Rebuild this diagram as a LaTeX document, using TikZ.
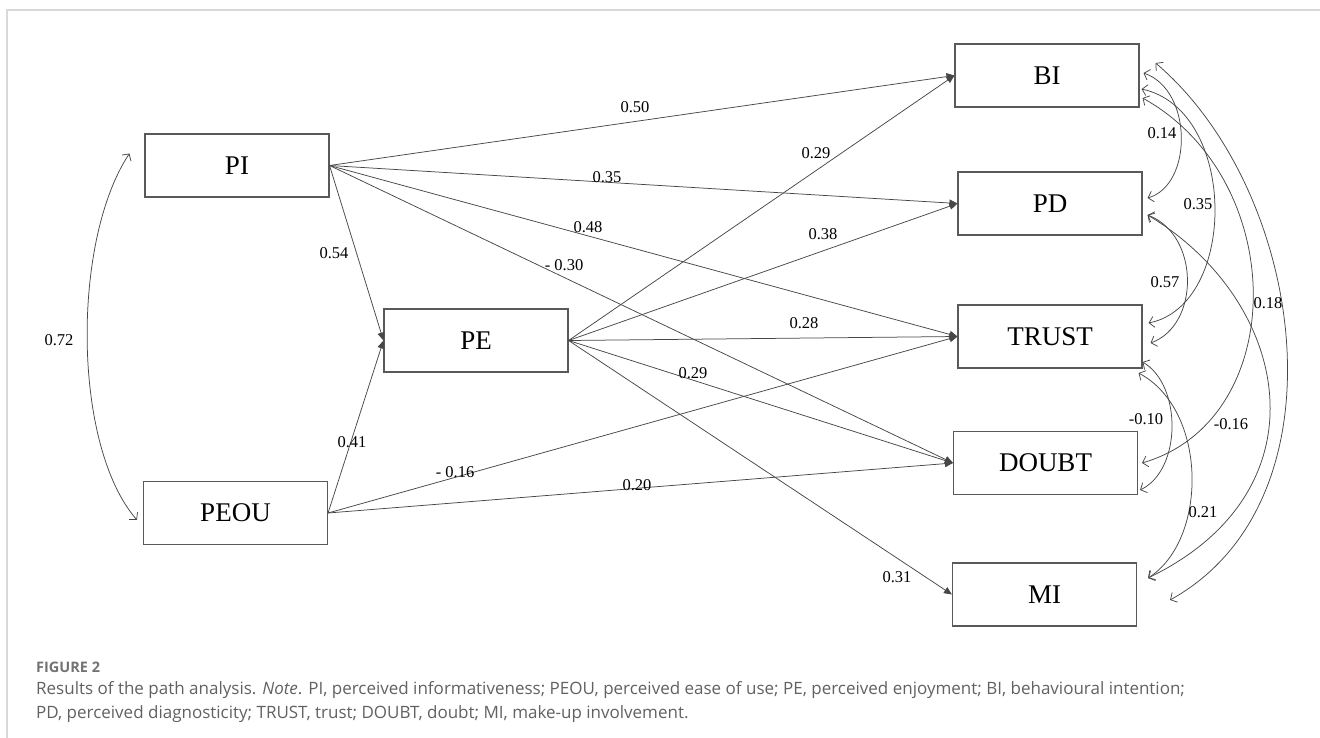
\documentclass[tikz,border=0pt]{standalone}
\usepackage{fontspec}
\setmainfont{Liberation Serif}
\newfontfamily\capfont{Open Sans}
\usetikzlibrary{arrows.meta,calc}
\begin{document}
\begin{tikzpicture}[x=1pt,y=-1pt,
  box/.style={draw=black!65,line width=1.1pt,minimum width=184pt,minimum height=63pt,inner sep=0pt,font=\fontsize{27}{27}\selectfont},
  pth/.style={draw=black!72,line width=0.75pt,-{Triangle[length=8pt,width=7pt]}},
  corr/.style={draw=black!72,line width=0.75pt,{Straight Barb[length=5pt,width=11pt]}-{Straight Barb[length=5pt,width=11pt]}},
  lab/.style={font=\fontsize{16.5}{16.5}\selectfont,inner sep=0pt},
  captext/.style={anchor=west,inner sep=0pt,text=black!62,font=\capfont\fontsize{17}{17}\selectfont}]
\useasboundingbox (0,0) rectangle (1320,738);
% frame
\draw[black!15,line width=1.5pt] (7,738) -- (7,10) -- (1320,10);
% boxes
\node[box] (PI) at (237,165.5) {PI};
\node[box] (PE) at (476,340.5) {PE};
\node[box] (PEOU) at (235.5,513) {PEOU};
\node[box] (BI) at (1047,75.5) {BI};
\node[box] (PD) at (1050,203.5) {PD};
\node[box] (TRUST) at (1050,336.5) {TRUST};
\node[box] (DOUBT) at (1045.5,463) {DOUBT};
\node[box] (MI) at (1044.5,594.5) {MI};
% straight paths
\draw[pth] (PI.east) -- (BI.west);
\draw[pth] (PI.east) -- (PD.west);
\draw[pth] (PI.east) -- (TRUST.west);
\draw[pth] (PI.east) -- (DOUBT.west);
\draw[pth] (PI.east) -- (PE.west);
\draw[pth] (PEOU.east) -- (PE.west);
\draw[pth] (PEOU.east) -- (TRUST.west);
\draw[pth] (PEOU.east) -- (DOUBT.west);
\draw[pth] (PE.east) -- (BI.west);
\draw[pth] (PE.east) -- (PD.west);
\draw[pth] (PE.east) -- (TRUST.west);
\draw[pth] (PE.east) -- (DOUBT.west);
\draw[pth] (PE.east) -- (MI.west);
% path labels
\node[lab] (l50) at (635,107) {0.50};
\node[lab] (l35) at (607,177) {0.35};
\node[lab] (l48) at (588,227) {0.48};
\node[lab] (l30) at (564,265) {- 0.30};
\node[lab] (l29a) at (816,153) {0.29};
\node[lab] (l38) at (823,234) {0.38};
\node[lab] (l28) at (804,323) {0.28};
\node[lab] (l29b) at (693,373) {0.29};
\node[lab] (l20) at (637,485) {0.20};
\node[lab] (l31) at (897,577) {0.31};
\node[lab] (l54) at (334,253) {0.54};
\node[lab] (l41) at (352,442) {0.41};
\node[lab] (l16a) at (455,472) {- 0.16};
\node[lab] (l72) at (59,340) {0.72};
% correlation PI-PEOU
\draw[corr] ($(PI.west)+(-15,-12)$) .. controls (72,240) and (72,445) .. ($(PEOU.west)+(-6,7)$);
% correlations on the right
\draw[corr] ($(BI.east)+(4,-2.5)$) .. controls (1193,90) and (1193,185) .. ($(PD.east)+(5,-5.5)$);
\draw[corr] ($(BI.east)+(2,13.5)$) .. controls (1238,110) and (1238,305) .. ($(TRUST.east)+(6,-13.5)$);
\draw[corr] ($(PD.east)+(5,11.5)$) .. controls (1200,235) and (1200,325) .. ($(TRUST.east)+(8,6.5)$);
\draw[corr] ($(BI.east)+(3,22.5)$) .. controls (1290,180) and (1290,420) .. ($(DOUBT.east)+(4,0)$);
\draw[corr] ($(BI.east)+(16,-12.5)$) .. controls (1305,190) and (1350,500) .. ($(MI.east)+(33,5.5)$);
\draw[corr] ($(TRUST.east)+(0,25.5)$) .. controls (1182,385) and (1182,470) .. ($(DOUBT.east)+(2,27)$);
\draw[corr] ($(TRUST.east)+(-4,36.5)$) .. controls (1208,410) and (1208,540) .. ($(MI.east)+(11,-16.5)$);
\draw[corr] ($(PD.east)+(5,11.5)$) .. controls (1290,300) and (1330,490) .. ($(MI.east)+(11,-16.5)$);
% correlation labels
\node[lab] (c14) at (1162,133) {0.14};
\node[lab] (c35) at (1198,204) {0.35};
\node[lab] (c57) at (1165,282) {0.57};
\node[lab] (c18) at (1268,303) {0.18};
\node[lab] (c10) at (1146,419) {-0.10};
\node[lab] (c16) at (1231,424) {-0.16};
\node[lab] (c21) at (1203,512) {0.21};
% caption
\node[captext,font=\capfont\bfseries\fontsize{14.5}{14.5}\selectfont,text=black!55] (fig) at (36,667) {FIGURE 2};
\node[captext] (cap1) at (36,690) {Results of the path analysis. \textit{Note}. PI, perceived informativeness; PEOU, perceived ease of use; PE, perceived enjoyment; BI, behavioural intention;};
\node[captext] (cap2) at (36,714) {PD, perceived diagnosticity; TRUST, trust; DOUBT, doubt; MI, make-up involvement.};
\end{tikzpicture}
\end{document}
